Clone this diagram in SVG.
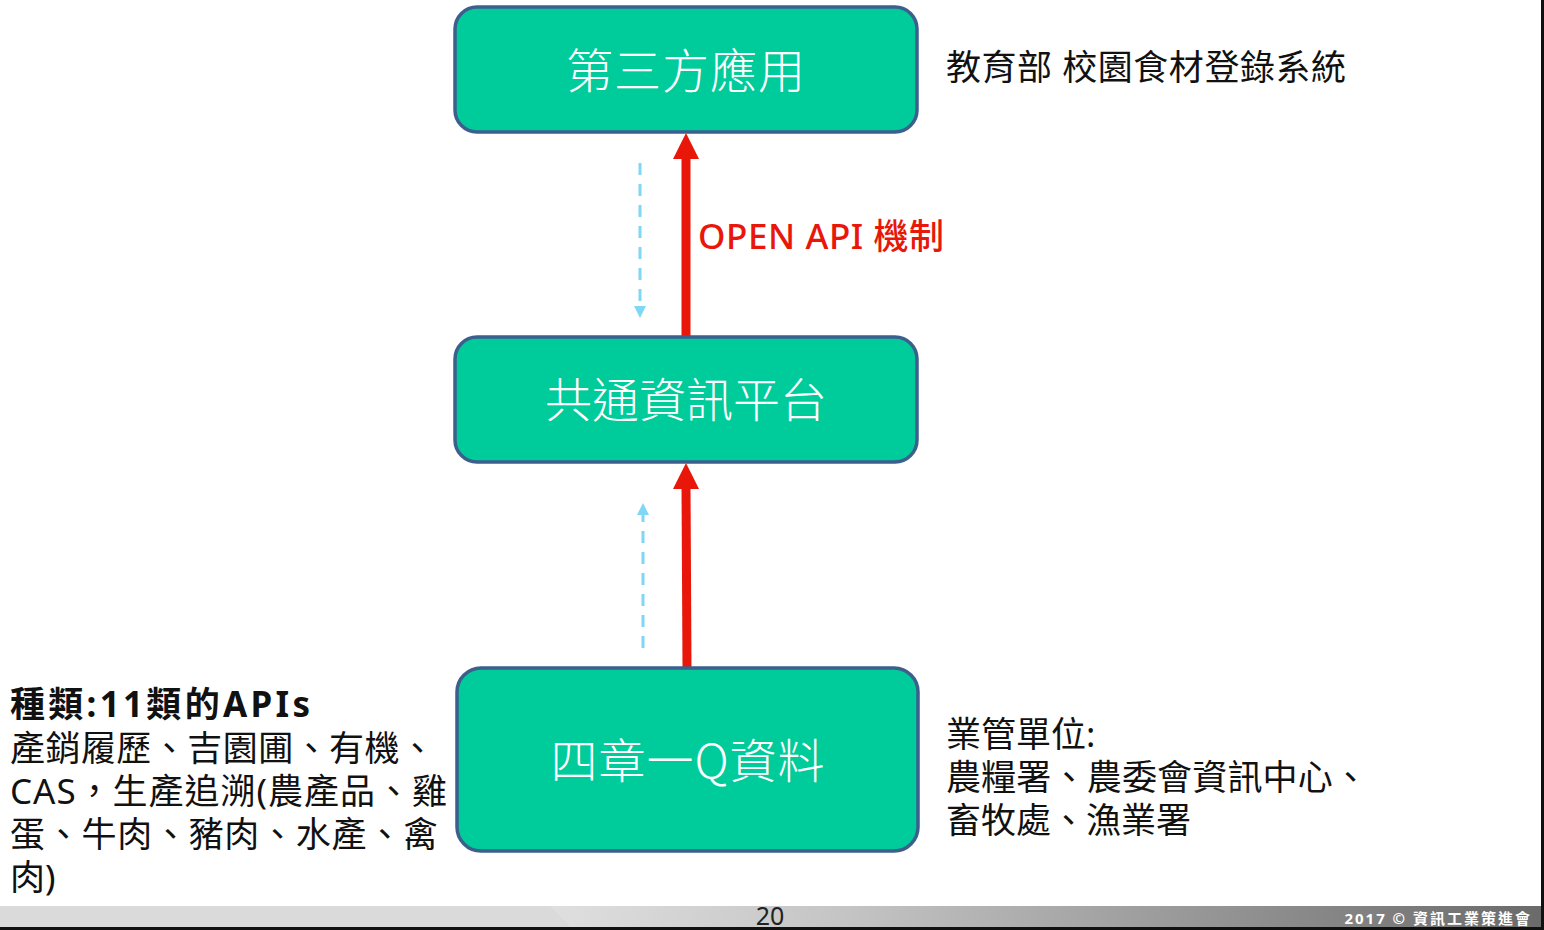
<svg xmlns="http://www.w3.org/2000/svg" width="1544" height="930" viewBox="0 0 1544 930">
<defs>
<style>
.node{fill:#00CC9B;stroke:#3C5F8D;stroke-width:3.5}
.nt{font-family:"Noto Sans CJK TC","Noto Sans",sans-serif;font-size:47px;fill:#fff;font-weight:300;text-anchor:middle}
.tx{font-family:"Noto Sans","Noto Sans CJK TC",sans-serif;font-size:35px;fill:#111}
.red{stroke:#E8170A;stroke-width:9;fill:none}
.dash{stroke:#7FD6F5;stroke-width:3;stroke-dasharray:12 9;fill:none}
</style>
<linearGradient id="fg" x1="0" y1="0" x2="1" y2="0">
<stop offset="0" stop-color="#DCDCDC"/>
<stop offset="0.35" stop-color="#E0E0E0"/>
<stop offset="0.55" stop-color="#C4C4C4"/>
<stop offset="1" stop-color="#6A6A6A"/>
</linearGradient>
</defs>
<rect width="1544" height="930" fill="#fff"/>
<g id="footer">
<rect x="0" y="906" width="1544" height="22" fill="url(#fg)"/>
<polygon points="0,906 550,906 572,928 0,928" fill="#DADADA"/>
<rect x="0" y="927" width="1544" height="3" fill="#111"/>
<rect x="1541" y="0" width="3" height="930" fill="#111"/>
<text x="770" y="925" font-family="Noto Sans,sans-serif" font-size="25" fill="#222" text-anchor="middle">20</text>
<text x="1532" y="924" font-family="Noto Sans,'Noto Sans CJK TC',sans-serif" font-size="15" font-weight="bold" fill="#fff" text-anchor="end" letter-spacing="2">2017 © 資訊工業策進會</text>
</g>
<g id="connectors">
<line class="red" x1="686" y1="337" x2="686" y2="155"/>
<polygon points="686,133 673,159 699,159" fill="#E8170A"/>
<line class="red" x1="687" y1="668" x2="686" y2="485"/>
<polygon points="686,463 673,489 699,489" fill="#E8170A"/>
<line class="dash" x1="640" y1="163" x2="640" y2="306"/>
<polygon points="640,318 634,306 646,306" fill="#7FD6F5"/>
<line class="dash" x1="643" y1="648" x2="643" y2="515"/>
<polygon points="643,503 637,515 649,515" fill="#7FD6F5"/>
<text x="698" y="249" font-family="Noto Sans,'Noto Sans CJK TC',sans-serif" font-size="35" font-weight="500" fill="#E8170A" textLength="246" lengthAdjust="spacing">OPEN API 機制</text>
</g>
<g id="node-app">
<rect class="node" x="455" y="7" width="462" height="125" rx="22"/>
<text class="nt" x="686" y="88" letter-spacing="1">第三方應用</text>
</g>
<g id="node-platform">
<rect class="node" x="455" y="337" width="462" height="125" rx="22"/>
<text class="nt" x="686" y="417">共通資訊平台</text>
</g>
<g id="node-data">
<rect class="node" x="457" y="668" width="461" height="183" rx="24"/>
<text class="nt" x="688" y="778" letter-spacing="1">四章一Q資料</text>
</g>
<g id="label-top">
<text class="tx" x="946" y="80" textLength="400" lengthAdjust="spacing">教育部 校園食材登錄系統</text>
</g>
<g id="label-left">
<text class="tx" x="10" y="717" font-weight="bold" font-size="37" textLength="300" lengthAdjust="spacing">種類:11類的APIs</text>
<text class="tx" x="10" y="761" textLength="425" lengthAdjust="spacing">產銷履歷、吉園圃、有機、</text>
<text class="tx" x="10" y="804" textLength="437" lengthAdjust="spacing">CAS，生產追溯(農產品、雞</text>
<text class="tx" x="10" y="847" textLength="428" lengthAdjust="spacing">蛋、牛肉、豬肉、水產、禽</text>
<text class="tx" x="10" y="890">肉)</text>
</g>
<g id="label-right">
<text class="tx" x="946" y="747">業管單位:</text>
<text class="tx" x="946" y="790" textLength="422" lengthAdjust="spacing">農糧署、農委會資訊中心、</text>
<text class="tx" x="946" y="833">畜牧處、漁業署</text>
</g>
</svg>
